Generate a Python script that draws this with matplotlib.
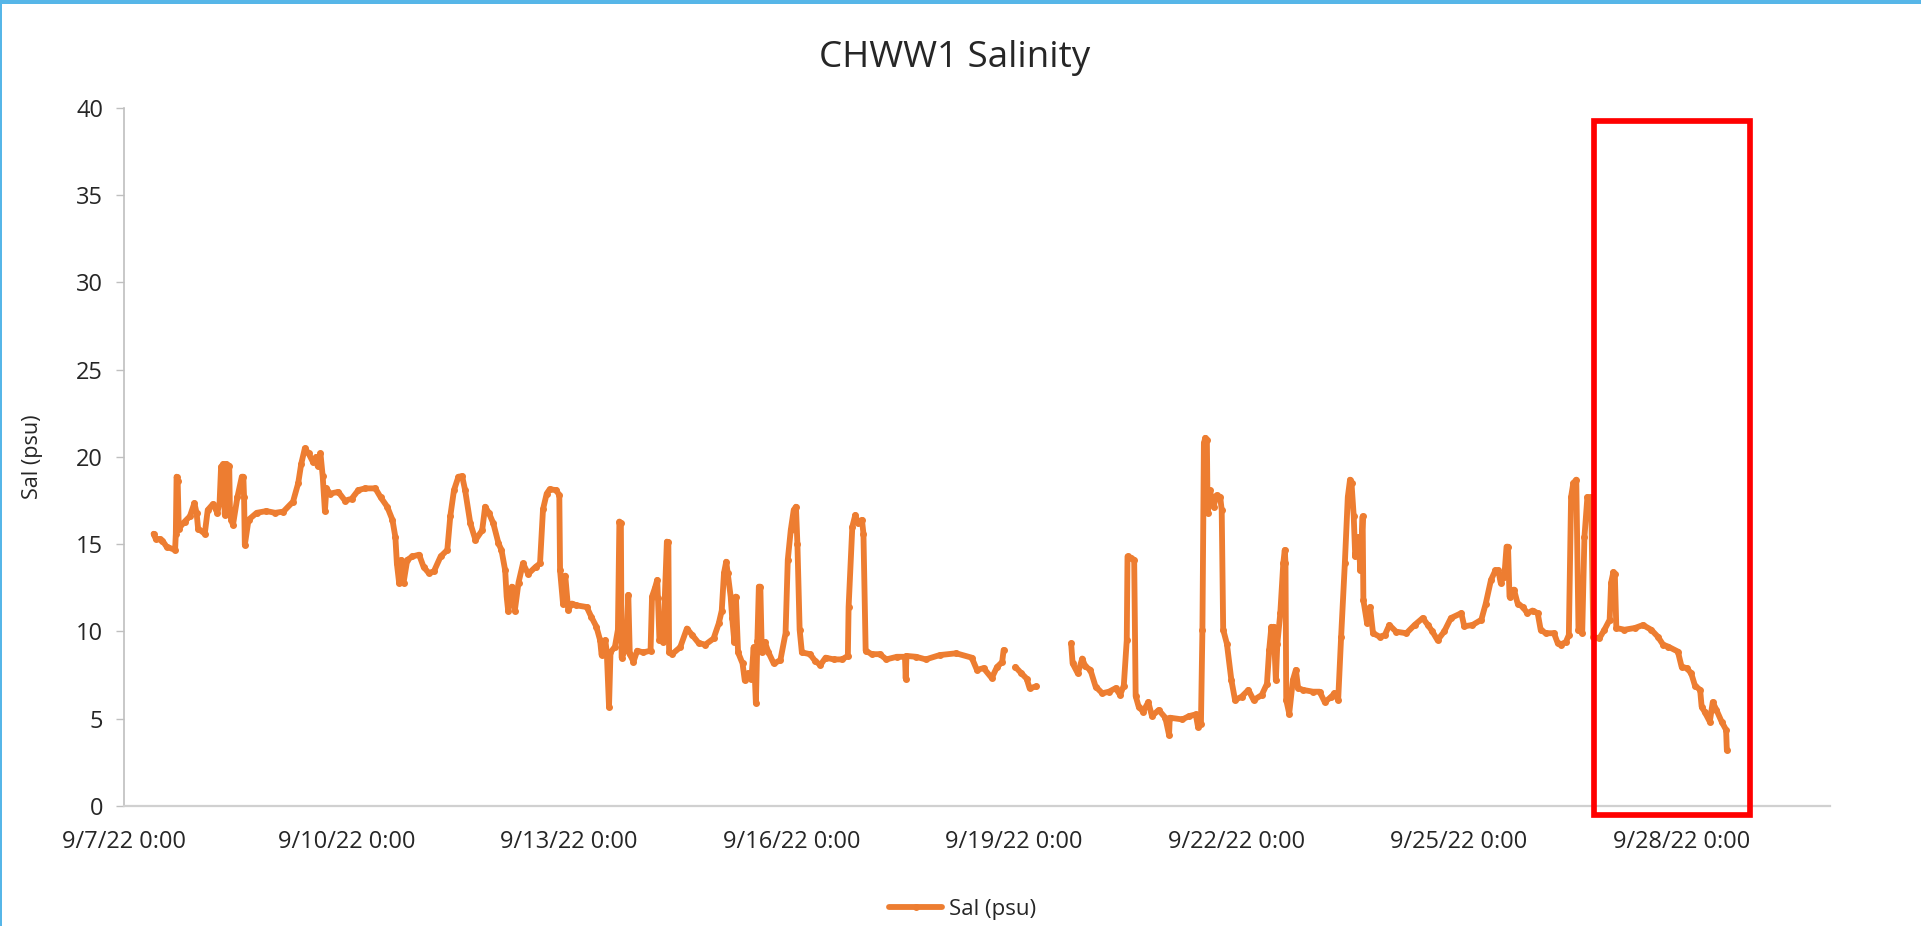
import numpy as np
import pandas as pd
import matplotlib
matplotlib.use("Agg")
import matplotlib.pyplot as plt
import matplotlib.dates as mdates
from matplotlib.patches import Rectangle
from matplotlib.ticker import FuncFormatter, MultipleLocator

# Data: time in days after 9/7/22 0:00, salinity in psu (nan = logger gap)
START = pd.Timestamp("2022-09-07 00:00")
NAN = float("nan")

DAYS = [
    0.40, 0.43, 0.48, 0.52, 0.575, 0.69, 0.70, 0.71, 0.725, 0.74, 0.82, 0.89, 0.95, 0.98,
    1.00, 1.09, 1.13, 1.20, 1.26, 1.29, 1.31, 1.34, 1.36, 1.38, 1.42, 1.43, 1.45, 1.47,
    1.53, 1.59, 1.61, 1.62, 1.63, 1.68, 1.79, 1.92, 2.04, 2.15, 2.28, 2.35, 2.39, 2.44,
    2.49, 2.55, 2.59, 2.61, 2.65, 2.68, 2.71, 2.73, 2.78, 2.89, 2.98, 3.07, 3.16, 3.25,
    3.39, 3.46, 3.55, 3.62, 3.66, 3.68, 3.71, 3.74, 3.77, 3.82, 3.89, 3.98, 4.04, 4.11,
    4.18, 4.27, 4.36, 4.40, 4.45, 4.51, 4.56, 4.60, 4.67, 4.74, 4.83, 4.87, 4.92, 4.98,
    5.05, 5.09, 5.14, 5.16, 5.18, 5.23, 5.27, 5.32, 5.38, 5.45, 5.55, 5.61, 5.65, 5.70,
    5.74, 5.83, 5.87, 5.88, 5.92, 5.95, 5.99, 6.04, 6.10, 6.24, 6.30, 6.37, 6.42, 6.44,
    6.49, 6.51, 6.54, 6.56, 6.62, 6.66, 6.68, 6.70, 6.71, 6.77, 6.80, 6.82, 6.87, 6.92,
    7.00, 7.10, 7.12, 7.16, 7.19, 7.20, 7.22, 7.27, 7.32, 7.34, 7.35, 7.39, 7.50, 7.59,
    7.66, 7.75, 7.84, 7.95, 8.02, 8.06, 8.09, 8.12, 8.14, 8.18, 8.20, 8.23, 8.25, 8.28,
    8.34, 8.37, 8.41, 8.46, 8.49, 8.52, 8.54, 8.56, 8.58, 8.60, 8.64, 8.69, 8.76, 8.85,
    8.92, 8.95, 8.99, 9.03, 9.06, 9.08, 9.11, 9.14, 9.25, 9.32, 9.39, 9.46, 9.57, 9.68,
    9.76, 9.77, 9.82, 9.86, 9.90, 9.95, 9.97, 10.00, 10.08, 10.19, 10.28, 10.42, 10.53,
    10.54, 10.55, 10.68, 10.81, 11.00, 11.22, 11.43, 11.50, 11.59, 11.70, 11.77, 11.84,
    11.86, 11.94,
    12.02, 12.10, 12.17, 12.21, 12.30, 12.5,
    12.77, 12.79, 12.86, 12.92, 12.96, 13.03, 13.10, 13.19, 13.28, 13.37, 13.43, 13.48,
    13.52, 13.53, 13.58, 13.62, 13.64, 13.68, 13.74, 13.81, 13.86, 13.95, 14.04, 14.09,
    14.10, 14.27, 14.36, 14.45, 14.48, 14.52, 14.54, 14.56, 14.58, 14.60, 14.61, 14.64,
    14.69, 14.73, 14.78, 14.80, 14.82, 14.87, 14.93, 14.98, 15.07, 15.16, 15.23, 15.34,
    15.41, 15.44, 15.47, 15.48, 15.50, 15.53, 15.55, 15.59, 15.63, 15.65, 15.66, 15.67,
    15.71, 15.76, 15.80, 15.83, 15.90, 16.03, 16.12, 16.19, 16.28, 16.32, 16.37, 16.41,
    16.46, 16.50, 16.53, 16.55, 16.58, 16.60, 16.64, 16.67, 16.70, 16.71, 16.76, 16.80,
    16.84, 16.93, 17.00, 17.06, 17.15, 17.29, 17.40, 17.51, 17.58, 17.64, 17.71, 17.80,
    17.89, 18.03, 18.07, 18.18, 18.30, 18.36, 18.43, 18.49, 18.53, 18.56, 18.61, 18.64,
    18.66, 18.68, 18.74, 18.79, 18.86, 18.92, 18.99, 19.06, 19.10, 19.17, 19.28, 19.33,
    19.37, 19.44, 19.48, 19.51, 19.54, 19.58, 19.61, 19.66, 19.69, 19.73, 19.78, 19.81,
    19.89, 19.96, 20.03, 20.05, 20.08, 20.10, 20.12, 20.23, 20.37, 20.48, 20.59, 20.68,
    20.75, 20.82, 20.95, 21.00, 21.07, 21.13, 21.18, 21.25, 21.27, 21.31, 21.38, 21.42,
    21.47, 21.54, 21.60, 21.61,
]

SAL = [
    15.6, 15.3, 15.3, 15.2, 14.86, 14.67, 15.6, 18.87, 18.6, 15.9, 16.3, 16.6, 17.35, 16.8,
    15.9, 15.6, 16.96, 17.3, 16.8, 17.4, 19.44, 19.6, 16.7, 19.6, 19.5, 16.7, 16.4, 16.1,
    17.7, 18.87, 18.87, 17.7, 14.96, 16.4, 16.8, 16.9, 16.8, 16.87, 17.44, 18.5, 19.6, 20.5,
    20.2, 19.7, 20.0, 19.5, 20.2, 18.9, 16.9, 18.2, 17.9, 18.0, 17.5, 17.6, 18.1, 18.2,
    18.2, 17.7, 17.15, 16.4, 15.4, 13.9, 12.8, 14.1, 12.8, 14.1, 14.3, 14.4, 13.7, 13.35,
    13.45, 14.3, 14.67, 16.6, 18.1, 18.87, 18.9, 18.1, 16.2, 15.24, 15.8, 17.15, 16.8, 16.2,
    15.05, 14.67, 13.5, 12.0, 11.2, 12.57, 11.2, 12.8, 13.9, 13.3, 13.7, 13.9, 17.0, 17.9,
    18.15, 18.1, 17.8, 13.5, 11.6, 13.2, 11.25, 11.6, 11.5, 11.4, 10.85, 10.27, 9.5, 8.65,
    9.5, 8.8, 5.69, 8.8, 9.13, 10.1, 16.3, 16.2, 8.5, 9.0, 12.1, 8.7, 8.27, 8.9,
    8.8, 8.9, 12.0, 12.5, 12.95, 11.9, 9.5, 9.4, 15.15, 15.1, 8.8, 8.7, 9.1, 10.17,
    9.8, 9.33, 9.25, 9.6, 10.47, 11.2, 13.35, 14.0, 13.35, 12.0, 10.8, 9.4, 12.0, 8.8,
    8.17, 7.2, 7.6, 7.3, 9.1, 5.9, 9.45, 12.57, 12.57, 8.8, 9.4, 8.8, 8.17, 8.35,
    9.9, 14.1, 15.8, 16.96, 17.15, 15.0, 10.1, 8.8, 8.7, 8.3, 8.08, 8.5, 8.4, 8.4,
    8.6, 11.4, 16.0, 16.67, 16.2, 16.4, 15.6, 8.9, 8.7, 8.7, 8.4, 8.55, 8.55,
    7.3, 8.6, 8.55, 8.4, 8.65, 8.75, 8.5, 7.8, 7.9, 7.33, 7.96, 8.25,
    8.94, NAN,
    7.96, 7.6, 7.3, 6.75, 6.85, NAN,
    9.32, 8.17, 7.6, 8.45, 8.0, 7.8, 6.84, 6.46, 6.55, 6.75, 6.36, 6.9,
    9.5, 14.3, 14.2, 14.1, 6.3, 5.7, 5.4, 5.95, 5.15, 5.5, 5.06, 4.07,
    5.06, 4.96, 5.15, 5.25, 4.55, 4.7, 10.1, 20.8, 21.1, 21.0, 16.8, 18.1,
    17.15, 17.8, 17.7, 16.96, 10.1, 9.3, 7.22, 6.07, 6.27, 6.65, 6.07, 6.36,
    7.0, 8.94, 10.27, 8.94, 10.27, 7.22, 9.3, 11.05, 13.9, 14.67, 13.9, 6.07,
    5.3, 7.22, 7.8, 6.75, 6.65, 6.55, 6.55, 5.95, 6.27, 6.46, 6.07, 9.7,
    13.9, 17.7, 18.7, 18.5, 16.6, 14.3, 15.4, 13.5, 16.6, 11.8, 10.47, 11.4,
    9.9, 9.7, 9.8, 10.37, 9.99, 9.9, 10.37, 10.77, 10.37, 10.0, 9.5, 10.0,
    10.77, 11.05, 10.3, 10.37, 10.67, 11.6, 12.95, 13.5, 13.5, 12.8, 13.15, 14.86,
    14.86, 12.0, 12.4, 11.6, 11.4, 11.05, 11.2, 11.05, 10.1, 9.9, 9.9, 9.33,
    9.25, 9.4, 9.8, 17.7, 18.5, 18.7, 10.1, 9.9, 15.4, 17.7, 17.7, 9.7,
    9.6, 10.1, 10.67, 12.8, 13.4, 13.3, 10.2, 10.1, 10.2, 10.37, 10.1, 9.7,
    9.25, 9.13, 8.85, 7.98, 7.9, 7.6, 6.9, 6.65, 5.7, 5.4, 4.83, 5.95,
    5.5, 4.83, 4.36, 3.2,
]

TICK_DATES = pd.date_range("2022-09-07", "2022-09-28", freq="3D")
X_MIN = pd.Timestamp("2022-09-07")
X_MAX = pd.Timestamp("2022-09-30")

# highlighted window (red box) on the last days
BOX_START = pd.Timestamp("2022-09-26 19:40")
BOX_END = pd.Timestamp("2022-09-28 22:05")
BOX_LOW, BOX_HIGH = -0.52, 39.26

ORANGE = "#ED7D31"
TEXT = "#262626"
FONT = ["Open Sans", "DejaVu Sans"]

plt.rcParams["font.family"] = FONT

times = START + pd.to_timedelta(DAYS, unit="D")
sal = np.array(SAL)

fig = plt.figure(figsize=(19.21, 9.26), dpi=100)
ax = fig.add_axes([0.0645, 0.1296, 0.8881, 0.7538])

ax.plot(times, sal, color=ORANGE, linewidth=4.2, marker="o", markersize=4,
        solid_joinstyle="round", solid_capstyle="round", label="Sal (psu)")

ax.set_xlim(X_MIN, X_MAX)
ax.set_ylim(0, 40)
ax.yaxis.set_major_locator(MultipleLocator(5))
ax.set_xticks(TICK_DATES)
ax.xaxis.set_major_formatter(FuncFormatter(
    lambda v, pos: (lambda d: f"{d.month}/{d.day}/{d.strftime('%y')} 0:00")(mdates.num2date(v))))

for side in ("top", "right"):
    ax.spines[side].set_visible(False)
ax.spines["left"].set_color("#BFBFBF")
ax.spines["bottom"].set_color("#D0D0D0")
ax.spines["left"].set_linewidth(1.2)
ax.spines["bottom"].set_linewidth(1.6)

ax.tick_params(axis="y", length=6, width=1.0, color="#BFBFBF", pad=9,
               labelsize=17, labelcolor=TEXT)
ax.tick_params(axis="x", length=0, pad=17, labelsize=17, labelcolor=TEXT)

ax.set_ylabel("Sal (psu)", fontsize=15.5, color=TEXT)
ax.yaxis.set_label_coords(-0.0475, 0.5)

fig.text(0.497, 0.937, "CHWW1 Salinity", ha="center", va="center",
         fontsize=26.5, color=TEXT)

leg = fig.legend(loc="center", bbox_to_anchor=(0.501, 0.018), frameon=False,
                 fontsize=16, handlelength=2.4, handletextpad=0.3)
for t in leg.get_texts():
    t.set_color(TEXT)

# red highlight box
x0 = mdates.date2num(BOX_START)
x1 = mdates.date2num(BOX_END)
ax.add_patch(Rectangle((x0, BOX_LOW), x1 - x0, BOX_HIGH - BOX_LOW, fill=False,
                       edgecolor="#FF0000", linewidth=4.1, clip_on=False, zorder=5))

# light-blue frame of the screenshot
fig.patches.append(Rectangle((0, 1 - 4 / 926), 1, 4 / 926, transform=fig.transFigure,
                             facecolor="#56B6E8", edgecolor="none"))
fig.patches.append(Rectangle((0, 0), 1.5 / 1921, 1, transform=fig.transFigure,
                             facecolor="#56B6E8", edgecolor="none"))

fig.savefig("out.png", dpi=100)
